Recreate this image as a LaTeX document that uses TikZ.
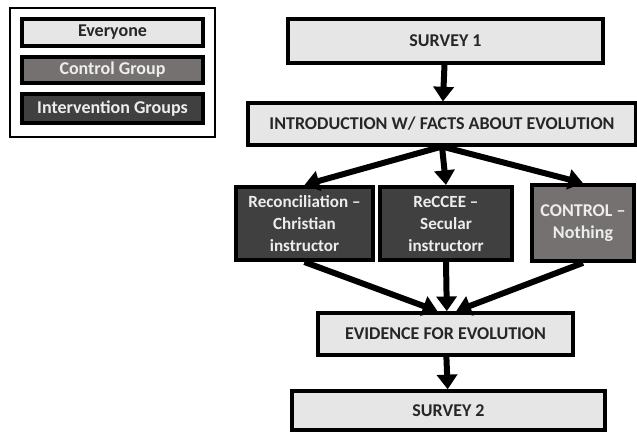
\documentclass[tikz,border=0pt]{standalone}
\usepackage{fontspec}
\setmainfont{Carlito}
\usetikzlibrary{arrows.meta,positioning}
\definecolor{boxlight}{HTML}{E7E6E6}
\definecolor{boxdark}{HTML}{404040}
\definecolor{boxctrl}{HTML}{767171}
\definecolor{textlight}{HTML}{EDEDED}

\tikzset{
  stage/.style={draw=black,line width=2.8pt,fill=boxlight,text=black!85,inner sep=0pt,
    font=\bfseries\fontsize{13.5}{15}\selectfont},
  group/.style={stage,fill=boxdark,text=textlight,align=center,
    font=\bfseries\fontsize{12.8}{16.5}\selectfont},
  ctrl/.style={group,fill=boxctrl},
  key/.style={stage,minimum width=136pt,font=\bfseries\fontsize{13.5}{15}\selectfont},
  flow/.style={line width=4.5pt,-{Triangle[length=11pt,width=15pt]}}
}

\begin{document}
\begin{tikzpicture}[x=0.75pt,y=-0.75pt]
\useasboundingbox (0,0) rectangle (637,433);

% Legend
\node[draw=black,line width=1.8pt,minimum width=154pt,minimum height=97pt] (legend) at (112.5,72.5) {};
\node[key,minimum height=20pt] (everyone) at (112.5,32.5) {Everyone};
\node[key,fill=boxctrl,text=textlight,minimum height=19.5pt] (ctrlkey) at (112.5,70) {Control Group};
\node[key,fill=boxdark,text=textlight,minimum height=22pt] (intkey) at (112.5,108.5) {Intervention Groups};

% Main flow
\node[stage,minimum width=236pt,minimum height=33pt] (survey1) at (445.5,41) {SURVEY 1};
\node[stage,minimum width=291pt,minimum height=31pt] (intro) at (442,124) {INTRODUCTION W/ FACTS ABOUT EVOLUTION};

\node[group,minimum width=103pt,minimum height=55pt] (recon) at (304.5,223.5) {Reconciliation --\\Christian\\instructor};
\node[group,minimum width=99pt,minimum height=55pt] (reccee) at (446,223.5) {ReCCEE --\\Secular\\instructorr};
\node[ctrl,minimum width=76.5pt,minimum height=57pt,font=\bfseries\fontsize{13.5}{16.5}\selectfont] (control) at (583,223) {CONTROL --\\Nothing};

\node[stage,minimum width=191pt,minimum height=31.5pt] (evidence) at (445.5,334) {EVIDENCE FOR EVOLUTION};
\node[stage,minimum width=235pt,minimum height=29pt] (survey2) at (448.5,410.5) {SURVEY 2};

% Arrows
\draw[flow] (survey1) -- (intro);
\draw[flow] (intro.south) -- (recon.north);
\draw[flow] (intro.south) -- (reccee.north);
\draw[flow] (intro.south) -- (control.north);
\draw[flow] (recon.south) -- ([xshift=-6pt]evidence.north);
\draw[flow] (reccee.south) -- ([xshift=1pt]evidence.north);
\draw[flow] (control.south) -- ([xshift=8pt]evidence.north);
\draw[flow] (evidence) -- (survey2);
\end{tikzpicture}
\end{document}
